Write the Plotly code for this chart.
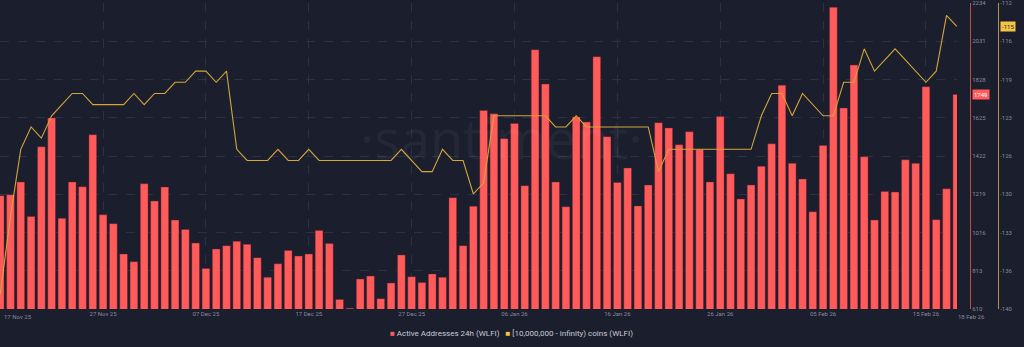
import numpy as np
import pandas as pd
import plotly.graph_objects as go

# ---- data -------------------------------------------------------------
start_date = "2025-11-17"
dates = pd.date_range(start_date, periods=94, freq="D")

active_addresses = [
    1211, 1216, 1284, 1101, 1471, 1624, 1091, 1284, 1259, 1535,
    1110, 1063, 902, 861, 1275, 1183, 1257, 1082, 1032, 960,
    825, 928, 946, 969, 953, 882, 778, 850, 921, 891,
    902, 1027, 957, 661, 614, 769, 785, 665, 748, 897,
    781, 750, 796, 778, 1201, 946, 1155, 1664, 1646, 1514,
    1595, 1264, 1986, 1804, 1284, 1153, 1629, 1602, 1949, 1524,
    1282, 1358, 1157, 1268, 1599, 1571, 1482, 1551, 1457, 1284,
    1631, 1328, 1194, 1268, 1367, 1487, 1798, 1383, 1300, 1126,
    1478, 2211, 1677, 1905, 1418, 1082, 1234, 1231, 1402, 1383,
    1790, 1084, 1248, 1749,
]

whale_holders = [
    -139, -132, -126, -124, -125, -123, -122, -121, -121, -122,
    -122, -122, -122, -121, -122, -121, -121, -120, -120, -119,
    -119, -120, -119, -126, -127, -127, -127, -126, -127, -127,
    -126, -127, -127, -127, -127, -127, -127, -127, -127, -126,
    -127, -128, -128, -126, -127, -127, -130, -129, -123, -123,
    -123, -123, -123, -123, -124, -124, -123, -124, -124, -124,
    -124, -124, -124, -124, -128, -126, -126, -126, -126, -126,
    -126, -126, -126, -126, -123, -121, -121, -123, -121, -122,
    -123, -123, -120, -120, -117, -119, -118, -117, -118, -119,
    -120, -119, -114, -115,
]

active_range = [610, 2234]
active_ticks = [610, 813, 1016, 1219, 1422, 1625, 1828, 2031, 2234]

holders_range = [-140.3, -112.9]
holders_ticks = list(np.linspace(holders_range[1], holders_range[0], 9))
holders_ticktext = [str(int(v)) for v in holders_ticks]

x_tick_dates = dates[10::10]

# ---- styling ----------------------------------------------------------
BG = "#1b1e2d"
RED = "#ff5b5b"
GOLD = "#d3a53a"
RED_AXIS = "#c84848"
GOLD_AXIS = "#b8924a"
TICK_COLOR = "#868b9c"
GRID = "#2b3043"
W, H = 1024, 347
PLOT_RIGHT = 957
RED_AXIS_X = 970
GOLD_AXIS_X = 998

day = pd.Timedelta(days=1)

fig = go.Figure()

fig.add_trace(go.Bar(
    x=dates,
    y=active_addresses,
    name="Active Addresses 24h (WLFI)",
    marker=dict(color=RED, line=dict(color="rgba(110,30,45,0.7)", width=0.6)),
    width=0.75 * 86400000,
    yaxis="y",
    showlegend=False,
))

fig.add_trace(go.Scatter(
    x=dates,
    y=whale_holders,
    name="[10,000,000 - infinity) coins (WLFI)",
    mode="lines",
    line=dict(color=GOLD, width=1.1),
    yaxis="y2",
    showlegend=False,
))

fmt = "%d %b %y"

annotations = [
    # watermark
    dict(text="·santiment·", x=0.49, y=0.56, xref="paper", yref="paper",
         showarrow=False, font=dict(size=54, color="rgba(255,255,255,0.045)",
                                    family="Open Sans")),
    # edge date labels
    dict(text=dates[0].strftime(fmt), x=dates[0], y=0, xref="x", yref="paper",
         xanchor="left", yanchor="top", yshift=-2, xshift=2, showarrow=False,
         font=dict(size=6, color=TICK_COLOR, family="Roboto")),
    dict(text=dates[-1].strftime(fmt), x=dates[-1], y=0, xref="x", yref="paper",
         xanchor="left", yanchor="top", yshift=-2, xshift=-1, showarrow=False,
         font=dict(size=6, color=TICK_COLOR, family="Roboto")),
    # current value badges
    dict(text=str(active_addresses[-1]), x=(RED_AXIS_X + 2) / W, y=active_addresses[-1],
         xref="paper", yref="y", xanchor="left", yanchor="middle", showarrow=False,
         bgcolor=RED, borderpad=1,
         font=dict(size=6, color="#ffffff", family="Roboto")),
    dict(text=str(whale_holders[-1]), x=(GOLD_AXIS_X + 2) / W, y=whale_holders[-1],
         xref="paper", yref="y2", xanchor="left", yanchor="middle", showarrow=False,
         bgcolor="#f4c542", borderpad=1,
         font=dict(size=6, color="#1b1e2d", family="Roboto")),
    # legend
    dict(text=(f"<span style='color:{RED}'>■</span> Active Addresses 24h (WLFI)"
               f"   <span style='color:#f4c542'>■</span> [10,000,000 - infinity) coins (WLFI)"),
         x=511 / W, y=-0.08, xref="paper", yref="paper", xanchor="center",
         yanchor="middle", showarrow=False,
         font=dict(size=8, color="#c9ccd6", family="Roboto")),
]

fig.update_layout(
    width=W,
    height=H,
    margin=dict(l=0, r=0, t=3, b=38),
    paper_bgcolor=BG,
    plot_bgcolor=BG,
    bargap=0.25,
    xaxis=dict(
        type="date",
        domain=[0, PLOT_RIGHT / W],
        range=[dates[0] - 0.02 * day, dates[-1] + 0.02 * day],
        tickvals=list(x_tick_dates),
        ticktext=[d.strftime(fmt) for d in x_tick_dates],
        tickfont=dict(size=6, color=TICK_COLOR, family="Roboto"),
        ticks="",
        showgrid=True,
        gridcolor=GRID,
        griddash="dash",
        gridwidth=1,
        zeroline=False,
        showline=False,
    ),
    yaxis=dict(
        range=active_range,
        tickvals=active_ticks,
        side="right",
        anchor="free",
        position=RED_AXIS_X / W,
        showline=True,
        linecolor=RED_AXIS,
        linewidth=1,
        ticks="",
        ticklabeloverflow="allow",
        tickfont=dict(size=6, color=TICK_COLOR, family="Roboto"),
        showgrid=True,
        gridcolor=GRID,
        griddash="dash",
        zeroline=False,
    ),
    yaxis2=dict(
        range=holders_range,
        tickvals=holders_ticks,
        ticktext=holders_ticktext,
        overlaying="y",
        side="right",
        anchor="free",
        position=GOLD_AXIS_X / W,
        showline=True,
        linecolor=GOLD_AXIS,
        linewidth=1,
        ticks="",
        ticklabeloverflow="allow",
        tickfont=dict(size=6, color=TICK_COLOR, family="Roboto"),
        showgrid=False,
        zeroline=False,
    ),
    annotations=annotations,
)

fig.write_html("out.html")
